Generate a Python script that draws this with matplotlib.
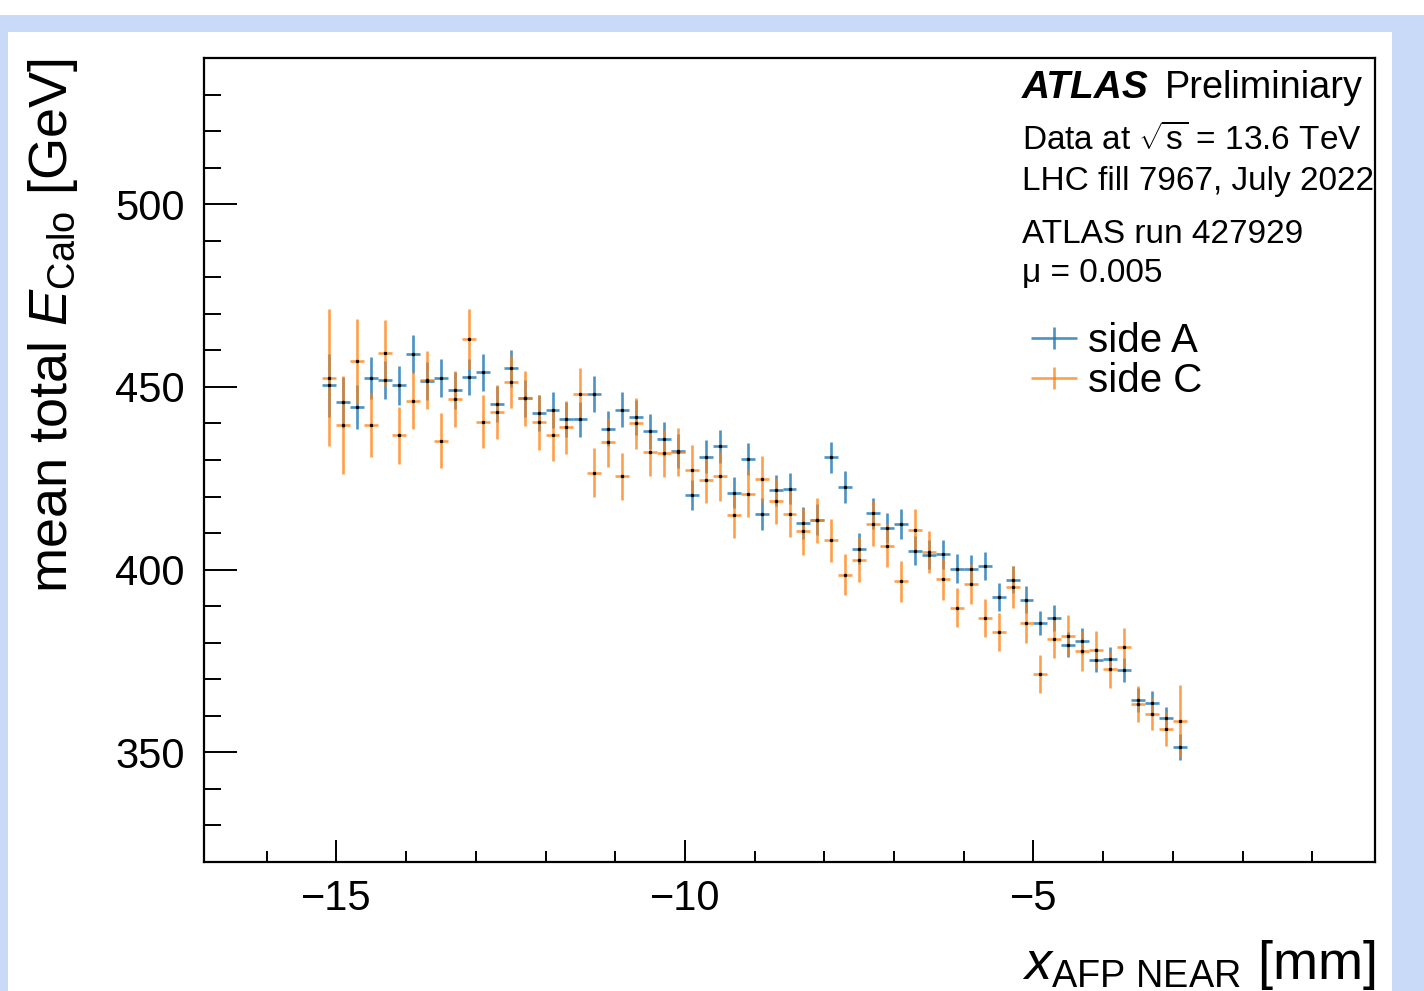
import matplotlib
matplotlib.use("Agg")
import matplotlib.pyplot as plt
from matplotlib.patches import Rectangle
from matplotlib.container import ErrorbarContainer
from matplotlib.legend_handler import HandlerErrorbar
from matplotlib.ticker import MultipleLocator

plt.rcParams['font.family'] = ['Liberation Sans', 'DejaVu Sans']
plt.rcParams['mathtext.fontset'] = 'custom'
plt.rcParams['mathtext.rm'] = 'Liberation Sans'
plt.rcParams['mathtext.it'] = 'Liberation Sans:italic'
plt.rcParams['mathtext.bf'] = 'Liberation Sans:bold'

# ---------------- data ----------------
x_pos = [-15.1, -14.9, -14.7, -14.5, -14.3, -14.1, -13.9, -13.7, -13.5, -13.3,
         -13.1, -12.9, -12.7, -12.5, -12.3, -12.1, -11.9, -11.7, -11.5, -11.3,
         -11.1, -10.9, -10.7, -10.5, -10.3, -10.1, -9.9, -9.7, -9.5, -9.3,
         -9.1, -8.9, -8.7, -8.5, -8.3, -8.1, -7.9, -7.7, -7.5, -7.3,
         -7.1, -6.9, -6.7, -6.5, -6.3, -6.1, -5.9, -5.7, -5.5, -5.3,
         -5.1, -4.9, -4.7, -4.5, -4.3, -4.1, -3.9, -3.7, -3.5, -3.3,
         -3.1, -2.9]
bin_half_width = 0.1

side_a = [450.4, 445.8, 444.4, 452.4, 451.8, 450.4, 459.0, 451.6, 452.4, 449.1,
          452.7, 454.0, 445.3, 455.1, 446.9, 442.9, 443.7, 441.1, 441.1, 448.1,
          438.6, 443.7, 441.7, 437.9, 435.8, 432.5, 420.4, 430.9, 433.7, 421.1,
          430.3, 415.2, 421.7, 422.2, 412.8, 413.7, 430.7, 422.6, 405.7, 415.4,
          411.3, 412.6, 405.2, 404.1, 404.2, 400.3, 400.2, 401.0, 392.5, 397.3,
          391.8, 385.4, 386.7, 379.4, 380.5, 375.2, 375.6, 372.5, 364.4, 363.6,
          359.3, 351.5]
side_a_err = [8.5, 7.0, 6.0, 5.7, 5.2, 5.3, 5.3, 5.2, 5.2, 5.1,
              5.0, 5.1, 5.0, 5.0, 5.0, 5.0, 4.9, 4.9, 4.9, 4.9,
              4.9, 4.8, 4.8, 4.8, 4.7, 4.6, 4.2, 4.5, 4.5, 4.3,
              4.4, 4.3, 4.3, 4.3, 4.3, 4.3, 4.3, 4.3, 4.2, 4.2,
              4.1, 4.1, 4.0, 4.0, 4.0, 3.9, 3.9, 3.9, 3.8, 3.8,
              3.7, 3.4, 3.6, 3.4, 3.6, 3.3, 3.2, 3.3, 3.3, 3.2,
              3.0, 3.6]

side_c = [452.5, 439.6, 457.1, 439.6, 459.3, 436.8, 446.2, 451.9, 435.3, 446.7,
          463.1, 440.5, 443.2, 451.4, 446.9, 440.3, 436.8, 438.9, 448.0, 426.5,
          434.8, 425.5, 440.0, 432.1, 431.8, 432.2, 427.4, 424.5, 425.5, 414.9,
          420.8, 424.9, 418.8, 415.2, 410.5, 413.5, 408.0, 398.6, 402.7, 412.6,
          406.6, 396.8, 410.9, 404.8, 397.4, 389.6, 396.0, 386.7, 382.9, 395.3,
          385.4, 371.5, 381.0, 381.9, 377.7, 378.1, 372.7, 378.7, 363.3, 360.5,
          356.4, 358.6]
side_c_err = [18.7, 13.5, 11.6, 8.8, 9.0, 7.8, 7.8, 7.9, 7.6, 7.6,
              8.1, 7.3, 7.4, 7.3, 7.5, 7.6, 7.2, 7.3, 7.1, 6.7,
              6.8, 6.4, 7.0, 6.5, 6.5, 6.6, 6.8, 6.4, 6.6, 6.3,
              6.4, 6.3, 6.4, 6.4, 6.4, 6.2, 5.9, 5.6, 6.1, 6.2,
              6.0, 5.6, 5.8, 5.8, 5.6, 5.4, 5.5, 5.2, 5.3, 5.7,
              5.4, 5.2, 5.1, 5.6, 5.4, 5.0, 5.1, 5.3, 4.9, 4.4,
              4.7, 9.8]

x_ticks = [-15, -10, -5]
y_ticks = [350, 400, 450, 500]
info_lines = [r"Data at $\sqrt{\mathrm{s}}$ = 13.6 TeV", "LHC fill 7967, July 2022",
              "ATLAS run 427929", "\u03bc = 0.005"]

# ---------------- figure ----------------
W, H = 1424, 991
fig = plt.figure(figsize=(W / 100, H / 100), dpi=100, facecolor='white')
fig.patches.append(Rectangle((0, 0), 1, (H - 15) / H, transform=fig.transFigure,
                             facecolor='#c9daf8', edgecolor='none', zorder=-10))
fig.patches.append(Rectangle((8 / W, 0), (1392 - 8) / W, (H - 32) / H,
                             transform=fig.transFigure, facecolor='white',
                             edgecolor='none', zorder=-9))

L, R, T, B = 204, 1375, 58, 862
ax = fig.add_axes([L / W, (H - B) / H, (R - L) / W, (B - T) / H])
ax.set_facecolor('white')

blue = '#1f77b4'
orange = '#ff7f0e'
xerr = [bin_half_width] * len(x_pos)

ea = ax.errorbar(x_pos, side_a, yerr=side_a_err, xerr=xerr, fmt='none',
                 ecolor=blue, elinewidth=1.9, alpha=0.8, label='side A', zorder=2)
ec = ax.errorbar(x_pos, side_c, yerr=side_c_err, xerr=xerr, fmt='none',
                 ecolor=orange, elinewidth=1.9, alpha=0.75, label='side C', zorder=3)
ax.plot(x_pos, side_a, 'o', ms=1.5, color='black', zorder=4)
ax.plot(x_pos, side_c, 'o', ms=1.5, color='black', zorder=4)

ax.set_xlim(-16.9, -0.1)
ax.set_ylim(320, 540)
ax.set_xticks(x_ticks)
ax.set_yticks(y_ticks)
ax.xaxis.set_minor_locator(MultipleLocator(1))
ax.yaxis.set_minor_locator(MultipleLocator(10))
ax.tick_params(axis='x', which='major', direction='in', length=16, width=1.4,
               labelsize=30, pad=12)
ax.tick_params(axis='x', which='minor', direction='in', length=8, width=1.4)
ax.tick_params(axis='y', which='major', direction='in', length=24, width=1.4,
               labelsize=30, pad=14)
ax.tick_params(axis='y', which='minor', direction='in', length=12, width=1.4)
for s in ax.spines.values():
    s.set_linewidth(1.6)

# axis titles
fig.text(53 / W, 1 - 58 / H, r"mean total $\mathit{E}_{\mathrm{Calo}}$ [GeV]",
         rotation=90, ha='center', va='top', fontsize=39)
fig.text(R / W, 1 - 979 / H, r"$\mathit{x}_{\mathrm{AFP\ NEAR}}$ [mm]",
         ha='right', va='baseline', fontsize=39)

# info text
fig.text(1022 / W, 1 - 98 / H, "ATLAS", fontsize=28, fontweight='bold',
         fontstyle='italic', ha='left', va='baseline')
fig.text(1165 / W, 1 - 98 / H, "Preliminiary", fontsize=27.3, ha='left', va='baseline')
for txt, base in zip(info_lines, [150, 190, 243, 282]):
    fig.text(1022 / W, 1 - base / H, txt, fontsize=24.0, ha='left', va='baseline')

leg = ax.legend(handles=[ea, ec], loc='upper left',
                bbox_to_anchor=(1030 / W, 1 - 322 / H), bbox_transform=fig.transFigure,
                frameon=False, fontsize=29, borderpad=0, borderaxespad=0,
                handlelength=1.2, handletextpad=0.25, labelspacing=0.05,
                handler_map={ErrorbarContainer: HandlerErrorbar(xerr_size=0.57, yerr_size=0.28)})

fig.savefig('out.png', dpi=100, facecolor=fig.get_facecolor())
